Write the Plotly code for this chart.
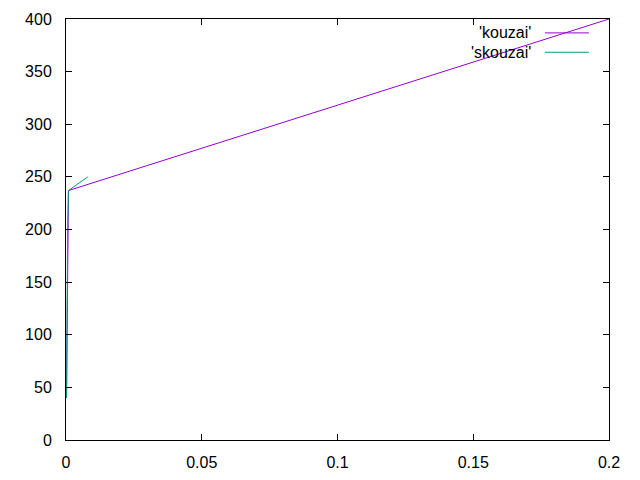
import plotly.graph_objects as go

kouzai_x = [0.0002, 0.0005, 0.0008, 0.0009, 0.2]
kouzai_y = [40, 120, 200, 237, 400]
skouzai_x = [0.0002, 0.0003, 0.0006, 0.0009, 0.008]
skouzai_y = [40, 119, 200, 237, 250]
series_names = ["'kouzai'", "'skouzai'"]
colors = ["#9400d3", "#009e73"]

fig = go.Figure()
fig.add_trace(go.Scatter(x=kouzai_x, y=kouzai_y, mode="lines", name=series_names[0],
                         line=dict(color=colors[0], width=1), showlegend=False))
fig.add_trace(go.Scatter(x=skouzai_x, y=skouzai_y, mode="lines", name=series_names[1],
                         line=dict(color=colors[1], width=1), showlegend=False))

# gnuplot-style legend: text right-aligned, then line sample
leg_y = [0.967, 0.921]
for name, c, yy in zip(series_names, colors, leg_y):
    fig.add_annotation(xref="paper", yref="paper", x=0.86, y=yy, text=name,
                       showarrow=False, xanchor="right", yanchor="middle",
                       font=dict(family="Liberation Sans, Arial", size=16, color="black"))
    fig.add_shape(type="line", xref="paper", yref="paper", x0=0.882, x1=0.963, y0=yy, y1=yy,
                  line=dict(color=c, width=1))

axis_common = dict(showgrid=False, zeroline=False, showline=True, linecolor="black", linewidth=1,
                   mirror="allticks", ticks="inside", ticklen=6, tickcolor="black",
                   tickfont=dict(family="Liberation Sans, Arial", size=16, color="black"))
fig.update_xaxes(range=[0, 0.2], tickvals=[0, 0.05, 0.1, 0.15, 0.2],
                 ticktext=["0", "0.05", "0.1", "0.15", "0.2"], ticklabelstandoff=8, **axis_common)
fig.update_yaxes(range=[0, 400], tickvals=list(range(0, 401, 50)), ticklabelstandoff=10,
                 **axis_common)
fig.update_layout(width=640, height=480, plot_bgcolor="white", paper_bgcolor="white",
                  margin=dict(l=58, r=39, t=11, b=48, autoexpand=False))
fig.write_html("out.html")
